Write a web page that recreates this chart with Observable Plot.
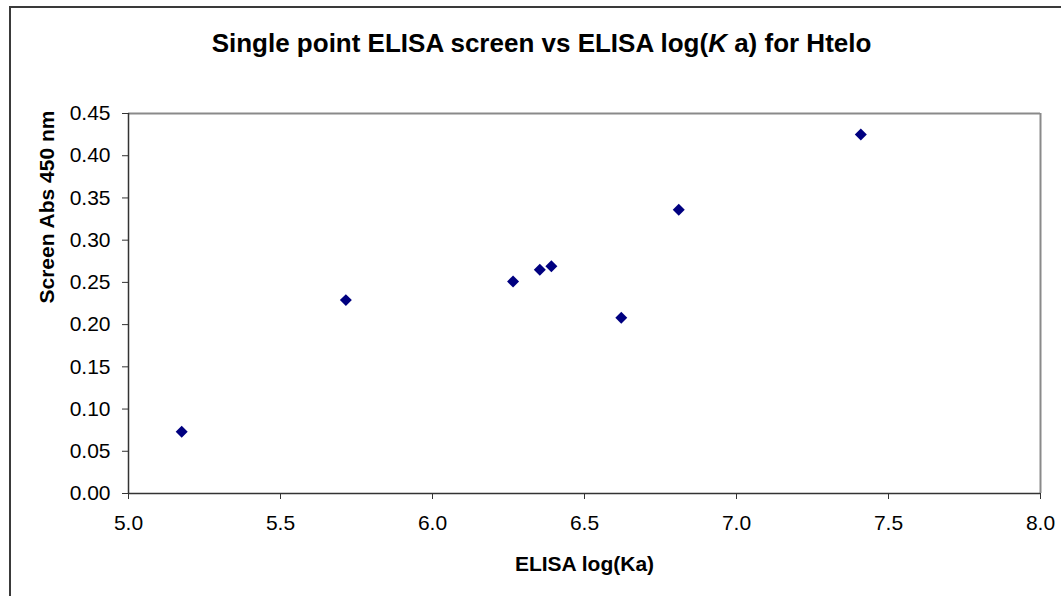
<!DOCTYPE html>
<html><head><meta charset="utf-8">
<script src="https://cdn.jsdelivr.net/npm/d3@7"></script>
<script src="https://cdn.jsdelivr.net/npm/@observablehq/plot@0.6"></script>
<style>
body{margin:0;background:#fff;}
#wrap{position:relative;width:1061px;height:596px;overflow:hidden;font-family:"Liberation Sans",Arial,sans-serif;background:#fff;}
#border{position:absolute;left:9px;top:6px;width:1100px;height:700px;border:2px solid #3a3a3a;box-sizing:border-box;pointer-events:none;z-index:2;}
#title{position:absolute;left:0;top:28px;width:1083px;text-align:center;font-size:26px;font-weight:bold;line-height:normal;color:#000;}
#chart{position:absolute;left:0;top:80px;}
</style></head>
<body>
<div id="wrap">
  <div id="title">Single point ELISA screen vs ELISA log(<i>K</i> a) for Htelo</div>
  <div id="chart"></div>
  <div id="border"></div>
</div>
<script>
const logKa = [5.175, 5.715, 6.265, 6.353, 6.391, 6.621, 6.810, 7.409];
const screenAbs = [0.073, 0.229, 0.251, 0.265, 0.269, 0.208, 0.336, 0.425];
const xTicks = [5.0, 5.5, 6.0, 6.5, 7.0, 7.5, 8.0];
const yTicks = [0, 0.05, 0.10, 0.15, 0.20, 0.25, 0.30, 0.35, 0.40, 0.45];
const xLabel = "ELISA log(Ka)";
const yLabel = "Screen Abs 450 nm";

const points = logKa.map((x, i) => ({x, y: screenAbs[i]}));

const chart = Plot.plot({
  width: 1061, height: 516,
  marginTop: 33, marginBottom: 103, marginLeft: 128, marginRight: 21,
  style: {background: "transparent", fontFamily: '"Liberation Sans", Arial, sans-serif', fontSize: "21px", color: "#000", overflow: "visible"},
  x: {domain: [5, 8]},
  y: {domain: [0, 0.45]},
  marks: [
    Plot.ruleY([0.45], {stroke: "#8a8a8a", strokeWidth: 2}),
    Plot.ruleX([8], {stroke: "#8a8a8a", strokeWidth: 2}),
    Plot.axisX(xTicks, {tickSize: 6, tickPadding: 16, tickFormat: d3.format(".1f"), stroke: "#333", label: null, fontSize: 21}),
    Plot.axisY(yTicks, {tickSize: 6, tickPadding: 12, tickFormat: d3.format(".2f"), stroke: "#333", label: null, fontSize: 21}),
    Plot.ruleX([5], {stroke: "#333", strokeWidth: 1.5}),
    Plot.ruleY([0], {stroke: "#333", strokeWidth: 1.5}),
    Plot.dot(points, {x: "x", y: "y", symbol: "diamond2", r: 5.4, fill: "#000080", stroke: "none"}),
    Plot.text([xLabel], {text: d => d, frameAnchor: "bottom", lineAnchor: "bottom", dy: 77, fontWeight: "bold", fontSize: 21}),
    Plot.text([yLabel], {text: d => d, frameAnchor: "left", rotate: -90, lineAnchor: "bottom", dx: -75, fontWeight: "bold", fontSize: 21})
  ]
});
document.getElementById("chart").appendChild(chart);
</script>
</body></html>
